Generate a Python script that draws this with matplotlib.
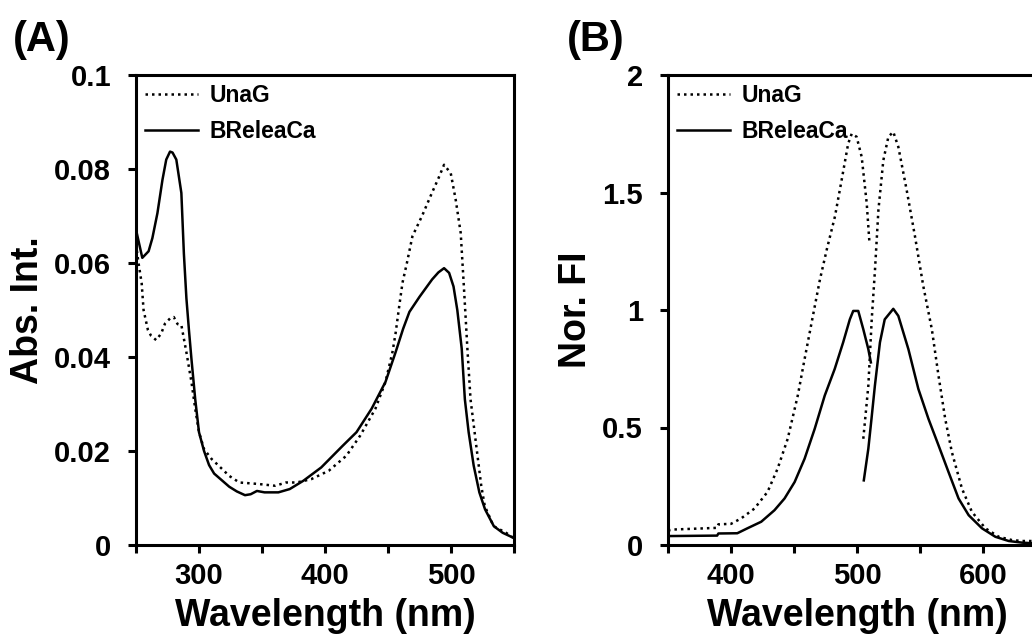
import numpy as np
import matplotlib
matplotlib.use("Agg")
import matplotlib.pyplot as plt
from matplotlib.ticker import FixedLocator

plt.rcParams['font.family'] = ['Liberation Sans', 'DejaVu Sans']
plt.rcParams['font.weight'] = 'bold'

# --- (A) absorbance spectra ---
abs_wl_breleaca = [250, 255, 260, 263, 267, 271, 274, 277, 279, 282, 286, 288, 290, 292, 294, 297,
                   300, 304, 308, 312, 318, 324, 330, 336.5, 341, 346, 352, 363, 372, 383, 397, 414, 425,
                   437, 448, 456, 462, 467, 475, 485, 490, 494.5, 498.5, 502, 505, 508.5, 511, 514,
                   518, 522.5, 527, 534, 541, 549, 550]
abs_breleaca = [0.0671, 0.0611, 0.0625, 0.0653, 0.0706, 0.0777, 0.0820, 0.0837, 0.0835, 0.0820,
                0.0749, 0.0620, 0.0525, 0.0458, 0.0396, 0.0310, 0.0240, 0.0200, 0.0170, 0.0152,
                0.0138, 0.0124, 0.0114, 0.0106, 0.0108, 0.0115, 0.0112, 0.0112, 0.0119, 0.0137, 0.0165,
                0.0211, 0.0240, 0.0290, 0.0347, 0.0410, 0.0460, 0.0496, 0.0528, 0.0565, 0.0580,
                0.0589, 0.0579, 0.0550, 0.0500, 0.0418, 0.0310, 0.0240, 0.0169, 0.0112, 0.0076,
                0.0040, 0.0026, 0.0016, 0.0015]

abs_wl_unag = [250, 252, 254.5, 256, 259.5, 262, 266, 270, 273, 277, 280, 283, 286, 290, 294, 297,
               300, 304, 310, 315.5, 324, 332, 346.5, 360.6, 369, 377.5, 389, 403, 417, 428, 440,
               448, 453.5, 456, 459, 461.5, 465, 469.4, 477, 485, 490, 494.5, 499.8, 503.7, 507.7,
               510, 511.7, 513, 515.5, 519.7, 524, 526.8, 533.8, 543.7, 549, 550]
abs_unag = [0.0640, 0.0600, 0.0557, 0.0500, 0.0457, 0.0445, 0.0436, 0.0450, 0.0471, 0.0482,
            0.0485, 0.0470, 0.0468, 0.0410, 0.0347, 0.0290, 0.0240, 0.0204, 0.0183, 0.0169,
            0.0147, 0.0133, 0.0130, 0.0126, 0.0133, 0.0133, 0.0140, 0.0158, 0.0190, 0.0233,
            0.0290, 0.0347, 0.0410, 0.0450, 0.0510, 0.0558, 0.0600, 0.0657, 0.0700, 0.0750,
            0.0780, 0.0809, 0.0791, 0.0735, 0.0664, 0.0560, 0.0480, 0.0418, 0.0310, 0.0219,
            0.0126, 0.0083, 0.0040, 0.0026, 0.0016, 0.0015]

# --- (B) normalised fluorescence: excitation + emission ---
ex_wl_breleaca = [350, 389, 390, 405, 413, 424, 434.5, 442.5, 450.5, 458.4, 466.4, 474.4, 482.3,
                  489, 494.3, 497, 501, 505, 509, 511]
ex_breleaca = [0.038, 0.040, 0.049, 0.050, 0.071, 0.099, 0.148, 0.198, 0.268, 0.367, 0.494,
               0.636, 0.749, 0.862, 0.960, 0.996, 0.996, 0.918, 0.833, 0.777]
em_wl_breleaca = [505.4, 509, 511.5, 514.2, 518.2, 522, 528.8, 532.8, 540.8, 548.7, 556.7, 564.7,
                  572.6, 580.6, 588.6, 599.2, 609.8, 620.4, 631, 641, 650]
em_breleaca = [0.275, 0.410, 0.537, 0.678, 0.862, 0.960, 1.005, 0.975, 0.833, 0.664, 0.537,
               0.424, 0.311, 0.198, 0.127, 0.071, 0.035, 0.017, 0.010, 0.007, 0.006]

ex_wl_unag = [350, 355, 389, 390, 400, 408, 418.6, 429, 437, 445, 453, 458.4, 464, 470.6, 476,
              482.5, 487.8, 493, 495.8, 499.7, 503.7, 507.7, 509.8]
ex_unag = [0.062, 0.066, 0.073, 0.088, 0.090, 0.113, 0.155, 0.226, 0.325, 0.452, 0.636, 0.791,
           0.947, 1.130, 1.257, 1.398, 1.553, 1.708, 1.750, 1.737, 1.652, 1.455, 1.293]
em_wl_unag = [505, 509, 511.7, 514.3, 517, 520.9, 524.9, 528.8, 532.8, 539.4, 546, 552.6, 559.4,
              564.7, 570, 575.3, 583.3, 591.2, 601.9, 612.5, 623, 631, 641, 650]
em_unag = [0.452, 0.678, 0.961, 1.173, 1.426, 1.637, 1.737, 1.758, 1.694, 1.511, 1.314, 1.102,
           0.918, 0.720, 0.537, 0.395, 0.240, 0.141, 0.071, 0.035, 0.021, 0.017, 0.017, 0.016]

a_yticks = [0, 0.02, 0.04, 0.06, 0.08, 0.1]
a_yticklabels = ['0', '0.02', '0.04', '0.06', '0.08', '0.1']
b_yticks = [0, 0.5, 1, 1.5, 2]
b_yticklabels = ['0', '0.5', '1', '1.5', '2']

dot = (0, (1, 1.6))
lw = 1.8

fig = plt.figure(figsize=(10.32, 6.42), dpi=100)
ax_a = fig.add_axes([136 / 1032, 1 - 545 / 642, 378 / 1032, 470 / 642])
ax_b = fig.add_axes([668 / 1032, 1 - 545 / 642, 378 / 1032, 470 / 642])

ax_a.plot(abs_wl_unag, abs_unag, color='black', lw=lw, linestyle=dot, label='UnaG')
ax_a.plot(abs_wl_breleaca, abs_breleaca, color='black', lw=lw, label='BReleaCa')

ax_b.plot(ex_wl_unag, ex_unag, color='black', lw=lw, linestyle=dot, label='UnaG')
ax_b.plot(ex_wl_breleaca, ex_breleaca, color='black', lw=lw, label='BReleaCa')
ax_b.plot(em_wl_unag, em_unag, color='black', lw=lw, linestyle=dot)
ax_b.plot(em_wl_breleaca, em_breleaca, color='black', lw=lw)

ax_a.set_xlim(250, 550)
ax_a.set_ylim(0, 0.1)
ax_a.set_xticks([300, 400, 500])
ax_a.xaxis.set_minor_locator(FixedLocator([250, 350, 450, 550]))
ax_a.set_yticks(a_yticks)
ax_a.set_yticklabels(a_yticklabels)
ax_a.set_ylabel('Abs. Int.', fontsize=27, fontweight='bold', labelpad=6)

ax_b.set_xlim(350, 650)
ax_b.set_ylim(0, 2)
ax_b.set_xticks([400, 500, 600])
ax_b.xaxis.set_minor_locator(FixedLocator([350, 450, 550, 650]))
ax_b.set_yticks(b_yticks)
ax_b.set_yticklabels(b_yticklabels)
ax_b.set_ylabel('Nor. FI', fontsize=27, fontweight='bold', labelpad=6)

for ax in (ax_a, ax_b):
    ax.set_xlabel('Wavelength (nm)', fontsize=27, fontweight='bold', labelpad=6)
    for s in ax.spines.values():
        s.set_linewidth(2.2)
    ax.tick_params(which='both', direction='out', length=6, width=2.2, labelsize=21)
    ax.tick_params(axis='x', which='both', pad=6)
    ax.tick_params(axis='y', which='both', pad=12)
    ax.legend(loc='upper left', frameon=False, fontsize=16.5, handlelength=2.3,
              handletextpad=0.5, labelspacing=0.55, borderaxespad=0.1, borderpad=0.3)

fig.text(42 / 1032, 1 - 40 / 642, '(A)', fontsize=30, fontweight='bold', ha='center', va='center')
fig.text(596 / 1032, 1 - 40 / 642, '(B)', fontsize=30, fontweight='bold', ha='center', va='center')

fig.savefig('out.png', dpi=100)
